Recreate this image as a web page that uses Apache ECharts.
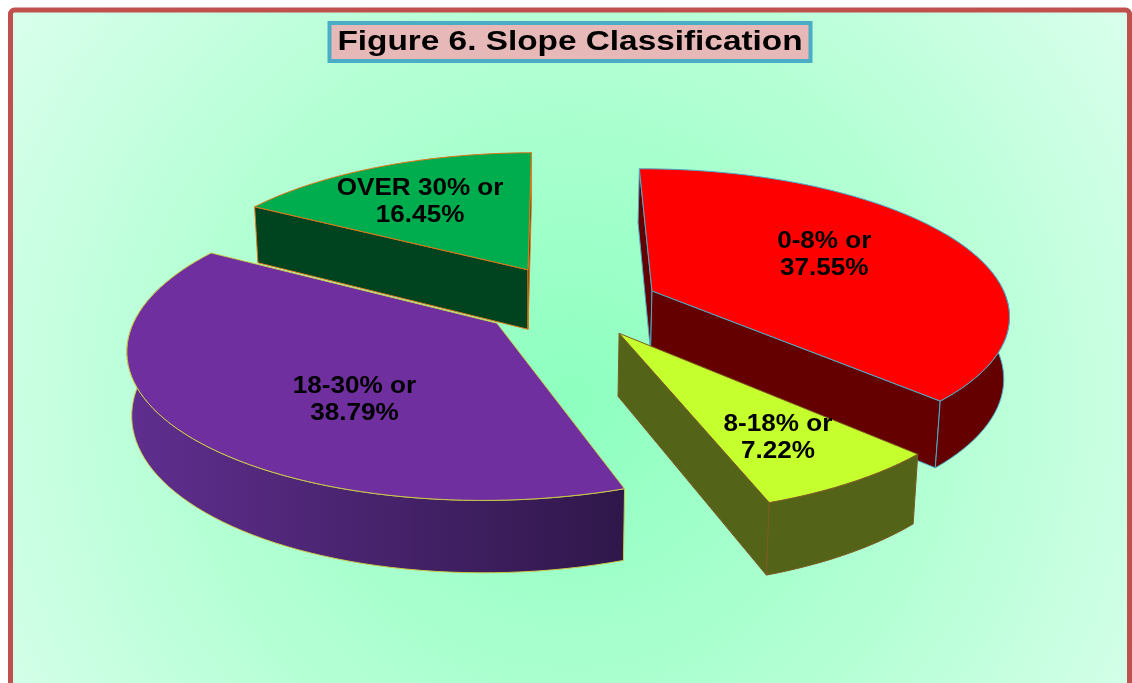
<!DOCTYPE html>
<html><head><meta charset="utf-8">
<style>html,body{margin:0;padding:0;background:#fff;overflow:hidden}#c{width:1132px;height:683px}</style>
<script src="https://cdn.jsdelivr.net/npm/echarts@6/dist/echarts.min.js"></script>
</head><body><div id="c"></div>
<script>
const titleText = 'Figure 6. Slope Classification';
const categories = ['0-8%', '8-18%', '18-30%', 'OVER 30%'];
const values = [37.55, 7.22, 38.79, 16.45];

const topColors = ['#ff0000', '#c6ff2e', '#6f2f9f', '#00ad4e'];
const sideColors = ['#640000', '#536418', '#2f174a', '#00441f'];
const edgeColors = ['#4bacc6', '#7d5a22', '#c9c84a', '#e0761a'];

// pie geometry (3-D projection of a unit-radius pie)
const START_DEG = -0.5;
const CX = 575, CY = 300, RX = 355, RY = 143, PERSP = 0.15;
const explodeX = [0.219, 0.12, -0.2147, -0.1367];
const explodeY = [0.064, -0.225, -0.158, 0.218];
const labelR = [0.54, 0.8, 0.55, 0.6];
const labelNudgeX = [5, -22, 25, -15];
const labelNudgeY = [-7, -11, 21, -3];
const drawOrder = [3, 2, 0, 1];

const total = values.reduce((a, b) => a + b, 0);
const project = (X, Y) => { const w = 1 + PERSP * Y; return [CX + RX * X / w, CY - RY * Y / w]; };
const extrude = p => [530 + (p[0] - 530) * 0.988, p[1] + 56 + 0.056 * (p[1] - 208)];
const rad = d => d * Math.PI / 180;

function sliceAngles(i) {
  let s = START_DEG;
  for (let k = 0; k < i; k++) s += values[k] / total * 360;
  return [s, s + values[i] / total * 360];
}
const pointOn = (i, deg, r) => project(explodeX[i] + r * Math.sin(rad(deg)), explodeY[i] + r * Math.cos(rad(deg)));

function poly(points, fill, stroke, z) {
  return { type: 'polygon', z2: z, shape: { points }, style: { fill, stroke, lineWidth: 1, lineJoin: 'round' } };
}

function renderItem(params, api) {
  const i = drawOrder[params.dataIndex];
  const [a0, a1] = sliceAngles(i);
  const steps = Math.max(8, Math.round((a1 - a0) / 2));
  const arc = [];
  for (let s = 0; s <= steps; s++) arc.push(a0 + (a1 - a0) * s / steps);
  const apex = pointOn(i, 0, 0);
  const top = arc.map(d => pointOn(i, d, 1));
  const children = [];
  const mid = top[Math.round(steps / 2)];
  const wall = (pA) => {
    const t = (mid[0] - apex[0]) / (pA[0] - apex[0]);
    const lineY = apex[1] + t * (pA[1] - apex[1]);
    if (mid[1] < lineY) children.push(poly([apex, pA, extrude(pA), extrude(apex)], sideColors[i], edgeColors[i], 1));
  };
  wall(top[0]);
  wall(top[top.length - 1]);
  const front = [];
  arc.forEach((d, k) => { if (Math.cos(rad(d)) < 0.45) front.push(top[k]); });
  if (front.length > 1) {
    const fill = i === 2
      ? { type: 'linear', x: 135, y: 0, x2: 623, y2: 0, global: true,
          colorStops: [{ offset: 0, color: '#5f2e8e' }, { offset: 1, color: '#2f174a' }] }
      : sideColors[i];
    children.push(poly(front.concat(front.map(extrude).reverse()), fill, edgeColors[i], 2));
  }
  children.push(poly([apex].concat(top), topColors[i], edgeColors[i], 3));
  const midDeg = (a0 + a1) / 2;
  const lp = pointOn(i, midDeg, labelR[i]);
  children.push({
    type: 'text', z2: 4,
    x: lp[0] + labelNudgeX[i], y: lp[1] + labelNudgeY[i], scaleX: 1.11,
    style: {
      text: categories[i] + ' or\n' + values[i].toFixed(2) + '%',
      fill: '#000', font: 'bold 23.5px "Liberation Sans", Arial, sans-serif',
      align: 'center', verticalAlign: 'middle', lineHeight: 27
    }
  });
  return { type: 'group', children };
}

const chart = echarts.init(document.getElementById('c'), null, { renderer: 'canvas' });
chart.setOption({
  backgroundColor: '#ffffff',
  animation: false,
  graphic: { elements: [
    { type: 'rect', z: 0, shape: { x: 10.5, y: 10, width: 1119, height: 730, r: 4 },
      style: { stroke: '#c0504d', lineWidth: 5,
        fill: { type: 'radial', x: 570, y: 400, r: 700, global: true,
          colorStops: [{ offset: 0, color: '#8dffbf' }, { offset: 0.55, color: '#b5ffd5' }, { offset: 1, color: '#dcffee' }] } } },
    { type: 'rect', z: 10, shape: { x: 329.5, y: 23, width: 481, height: 38 },
      style: { fill: '#e6b8b7', stroke: '#4bacc6', lineWidth: 4 } },
    { type: 'text', z: 11, x: 570, y: 43, scaleX: 1.235,
      style: { text: titleText, fill: '#000', font: 'bold 27px "Liberation Sans", Arial, sans-serif',
        align: 'center', verticalAlign: 'middle' } }
  ] },
  series: [{
    type: 'custom', coordinateSystem: 'none', z: 5, silent: true,
    data: drawOrder.map(i => values[i]),
    renderItem
  }]
});
</script></body></html>
